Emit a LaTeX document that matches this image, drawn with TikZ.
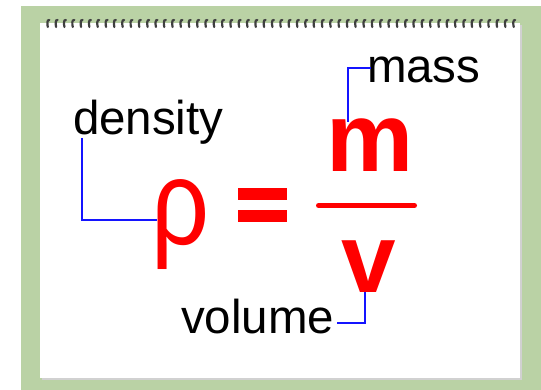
\documentclass[tikz,border=0pt]{standalone}
\usepackage{fontspec}
\setmainfont{Liberation Sans}
\definecolor{panelgreen}{RGB}{186,210,165}
\definecolor{eqred}{RGB}{255,0,0}
\definecolor{connblue}{RGB}{20,20,255}
\begin{document}
\begin{tikzpicture}[x=1pt,y=-1pt,
  lbl/.style={inner sep=0pt,outer sep=0pt,anchor=base west,font=\fontsize{47.5}{50}\selectfont},
  bigsym/.style={inner sep=0pt,outer sep=0pt,anchor=base,text=eqred,font=\fontsize{98}{100}\selectfont\bfseries},
  conn/.style={draw=connblue,line width=1.6pt},
  coil/.style={draw=black!75,line width=2.2pt,line cap=round}]
\useasboundingbox (0,0) rectangle (541,390);
% background panels
\fill[panelgreen] (21,6) rectangle (541,390);
\fill[black!18] (41.5,25) rectangle (522,380);
\fill[white] (39.5,23) rectangle (520,378);
% spiral binding
\foreach \i in {0,...,56}{
  \pgfmathsetmacro{\xx}{48+8.32*\i}
  \draw[coil] (\xx+1.3,20) .. controls (\xx-1.2,19.5) and (\xx-0.8,24) .. (\xx-0.2,27);
}
% texts
\node[lbl] (density) at (73,135) {density};
\node[lbl] (mass) at (367,83) {mass};
\node[lbl] (volume) at (181,333) {volume};
% symbols
\node[inner sep=0pt,outer sep=0pt,anchor=base,text=eqred,font=\fontsize{116}{120}\selectfont,xscale=0.88,yscale=1.04] (rho) at (181,245) {ρ};
\node[bigsym] (m) at (370,172) {m};
\node[bigsym] (v) at (368.5,292) {v};
\fill[eqred] (238,188) rectangle (287,200);
\fill[eqred] (238,210) rectangle (287,222);
\draw[eqred,line width=5pt,line cap=round] (318.5,205.5) -- (414.5,205.5);
% connectors
\coordinate (dA) at (82,138);
\coordinate (rhoL) at (157,220);
\coordinate (mtop) at (348,122);
\coordinate (massL) at (371,68);
\coordinate (volR) at (337,323);
\coordinate (vbot) at (365,292);
\draw[conn] (dA) |- (rhoL);
\draw[conn] (mtop) |- (massL);
\draw[conn] (volR) -| (vbot);
\end{tikzpicture}
\end{document}
